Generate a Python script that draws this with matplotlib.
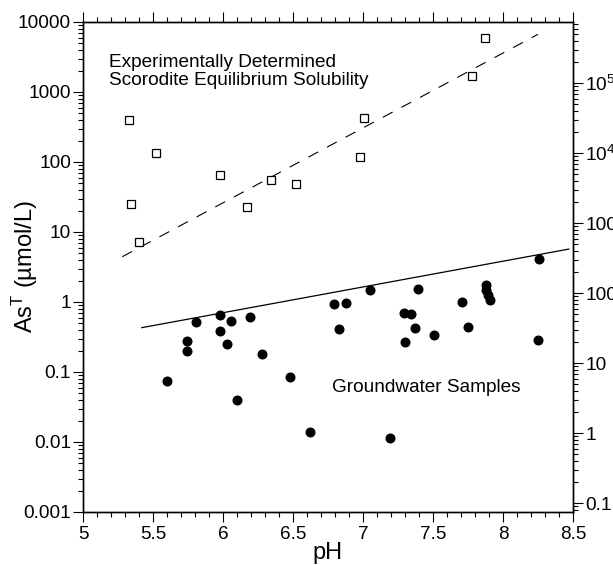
import numpy as np
import matplotlib
matplotlib.use("Agg")
import matplotlib.pyplot as plt
from matplotlib.ticker import FixedLocator, FixedFormatter, MultipleLocator, LogLocator, NullFormatter

# ---------------- data ----------------
# experimentally determined scorodite solubility (open squares)
exp_ph = [5.33, 5.34, 5.40, 5.52, 5.98, 6.17, 6.34, 6.52, 6.98, 7.01, 7.78, 7.87]
exp_as = [402, 25.4, 7.2, 136, 66, 22.8, 55, 49, 119, 430, 1710, 5970]

# groundwater samples (filled dots)
gw_ph = [5.60, 5.74, 5.74, 5.81, 5.98, 5.98, 6.03, 6.06, 6.10, 6.19, 6.28, 6.48,
         6.62, 6.79, 6.83, 6.88, 7.05, 7.19, 7.29, 7.30, 7.34, 7.37, 7.39, 7.51,
         7.71, 7.75, 7.88, 7.88, 7.89, 7.91, 8.25, 8.26]
gw_as = [0.074, 0.28, 0.20, 0.52, 0.66, 0.385, 0.25, 0.54, 0.040, 0.62, 0.18, 0.086,
         0.0138, 0.95, 0.41, 0.98, 1.50, 0.0113, 0.70, 0.27, 0.67, 0.42, 1.55, 0.34,
         1.0, 0.44, 1.75, 1.48, 1.26, 1.06, 0.29, 4.11]

# fitted lines (end points)
dash_ph = [5.28, 8.25]
dash_as = [4.43, 6670]
solid_ph = [5.42, 8.47]
solid_as = [0.43, 5.7]

# axes / ticks
x_lim = [5, 8.5]
y_lim = [0.001, 10000]
x_ticks = [5, 5.5, 6, 6.5, 7, 7.5, 8, 8.5]
x_ticklabels = ["5", "5.5", "6", "6.5", "7", "7.5", "8", "8.5"]
y_ticks = [0.001, 0.01, 0.1, 1, 10, 100, 1000, 10000]
y_ticklabels = ["0.001", "0.01", "0.1", "1", "10", "100", "1000", "10000"]
ug_per_umol = 74.92
r_ticks = [0.1, 1, 10, 100, 1000, 1e4, 1e5]
r_ticklabels = ["0.1", "1", "10", "100", "1000", "$10^{4}$", "$10^{5}$"]

# ---------------- style ----------------
plt.rcParams["font.family"] = ["Liberation Sans", "DejaVu Sans"]
plt.rcParams["mathtext.fontset"] = "custom"
plt.rcParams["mathtext.rm"] = "Liberation Sans"
plt.rcParams["mathtext.it"] = "Liberation Sans:italic"
plt.rcParams["mathtext.bf"] = "Liberation Sans:bold"

FS = 13.7
fig = plt.figure(figsize=(6.13, 5.65), dpi=100)
ax = fig.add_axes([83 / 613, 1 - 512 / 565, 490 / 613, 490 / 565])

ax.plot(exp_ph, exp_as, linestyle="none", marker="s", markersize=5.5,
        markerfacecolor="white", markeredgecolor="black", markeredgewidth=0.9, zorder=3)
ax.plot(gw_ph, gw_as, linestyle="none", marker="o", markersize=6.2,
        markerfacecolor="black", markeredgecolor="black", zorder=3)
ax.plot(dash_ph, dash_as, color="black", linewidth=0.8, dashes=(10, 9), zorder=2)
ax.plot(solid_ph, solid_as, color="black", linewidth=0.9, zorder=2)

ax.set_xlim(x_lim)
ax.set_yscale("log")
ax.set_ylim(y_lim)

ax.xaxis.set_major_locator(FixedLocator(x_ticks))
ax.xaxis.set_major_formatter(FixedFormatter(x_ticklabels))
ax.xaxis.set_minor_locator(MultipleLocator(0.1))
ax.yaxis.set_major_locator(FixedLocator(y_ticks))
ax.yaxis.set_major_formatter(FixedFormatter(y_ticklabels))
ax.yaxis.set_minor_locator(LogLocator(base=10, subs=np.arange(2, 10), numticks=100))
ax.yaxis.set_minor_formatter(NullFormatter())

ax.tick_params(axis="x", which="both", direction="out", top=True, bottom=True,
               labelsize=FS, pad=3, width=0.8)
ax.tick_params(axis="y", which="both", direction="out", left=True, right=False,
               labelsize=FS, pad=1.5, width=0.8)
ax.tick_params(which="major", length=7.2)
ax.tick_params(which="minor", length=3.6)
for s in ax.spines.values():
    s.set_linewidth(1.0)

# right axis in ug/L
ax2 = ax.twinx()
ax2.set_yscale("log")
ax2.set_ylim(y_lim[0] * ug_per_umol, y_lim[1] * ug_per_umol)
ax2.yaxis.set_major_locator(FixedLocator(r_ticks))
ax2.yaxis.set_major_formatter(FixedFormatter(r_ticklabels))
ax2.yaxis.set_minor_locator(LogLocator(base=10, subs=np.arange(2, 10), numticks=100))
ax2.yaxis.set_minor_formatter(NullFormatter())
ax2.tick_params(axis="y", which="both", direction="out", labelsize=FS, pad=1.5, width=0.8)
ax2.tick_params(which="major", length=7.2)
ax2.tick_params(which="minor", length=3.6)
for s in ax2.spines.values():
    s.set_linewidth(1.0)

# labels
ax.set_xlabel("pH", fontsize=17, va="baseline")
ax.xaxis.set_label_coords(0.5, (512 - 559) / 490)
ax.set_ylabel("As$^{\\mathrm{T}}$ (µmol/L)", fontsize=17, va="baseline")
ax.yaxis.set_label_coords((33 - 83) / 490, 0.5)

ax.text(5.188, 2300, "Experimentally Determined", fontsize=FS, ha="left", va="baseline")
ax.text(5.188, 1259, "Scorodite Equilibrium Solubility", fontsize=FS, ha="left", va="baseline")
ax.text(6.776, 0.0524, "Groundwater Samples", fontsize=FS, ha="left", va="baseline")

fig.savefig("out.png", dpi=100)
